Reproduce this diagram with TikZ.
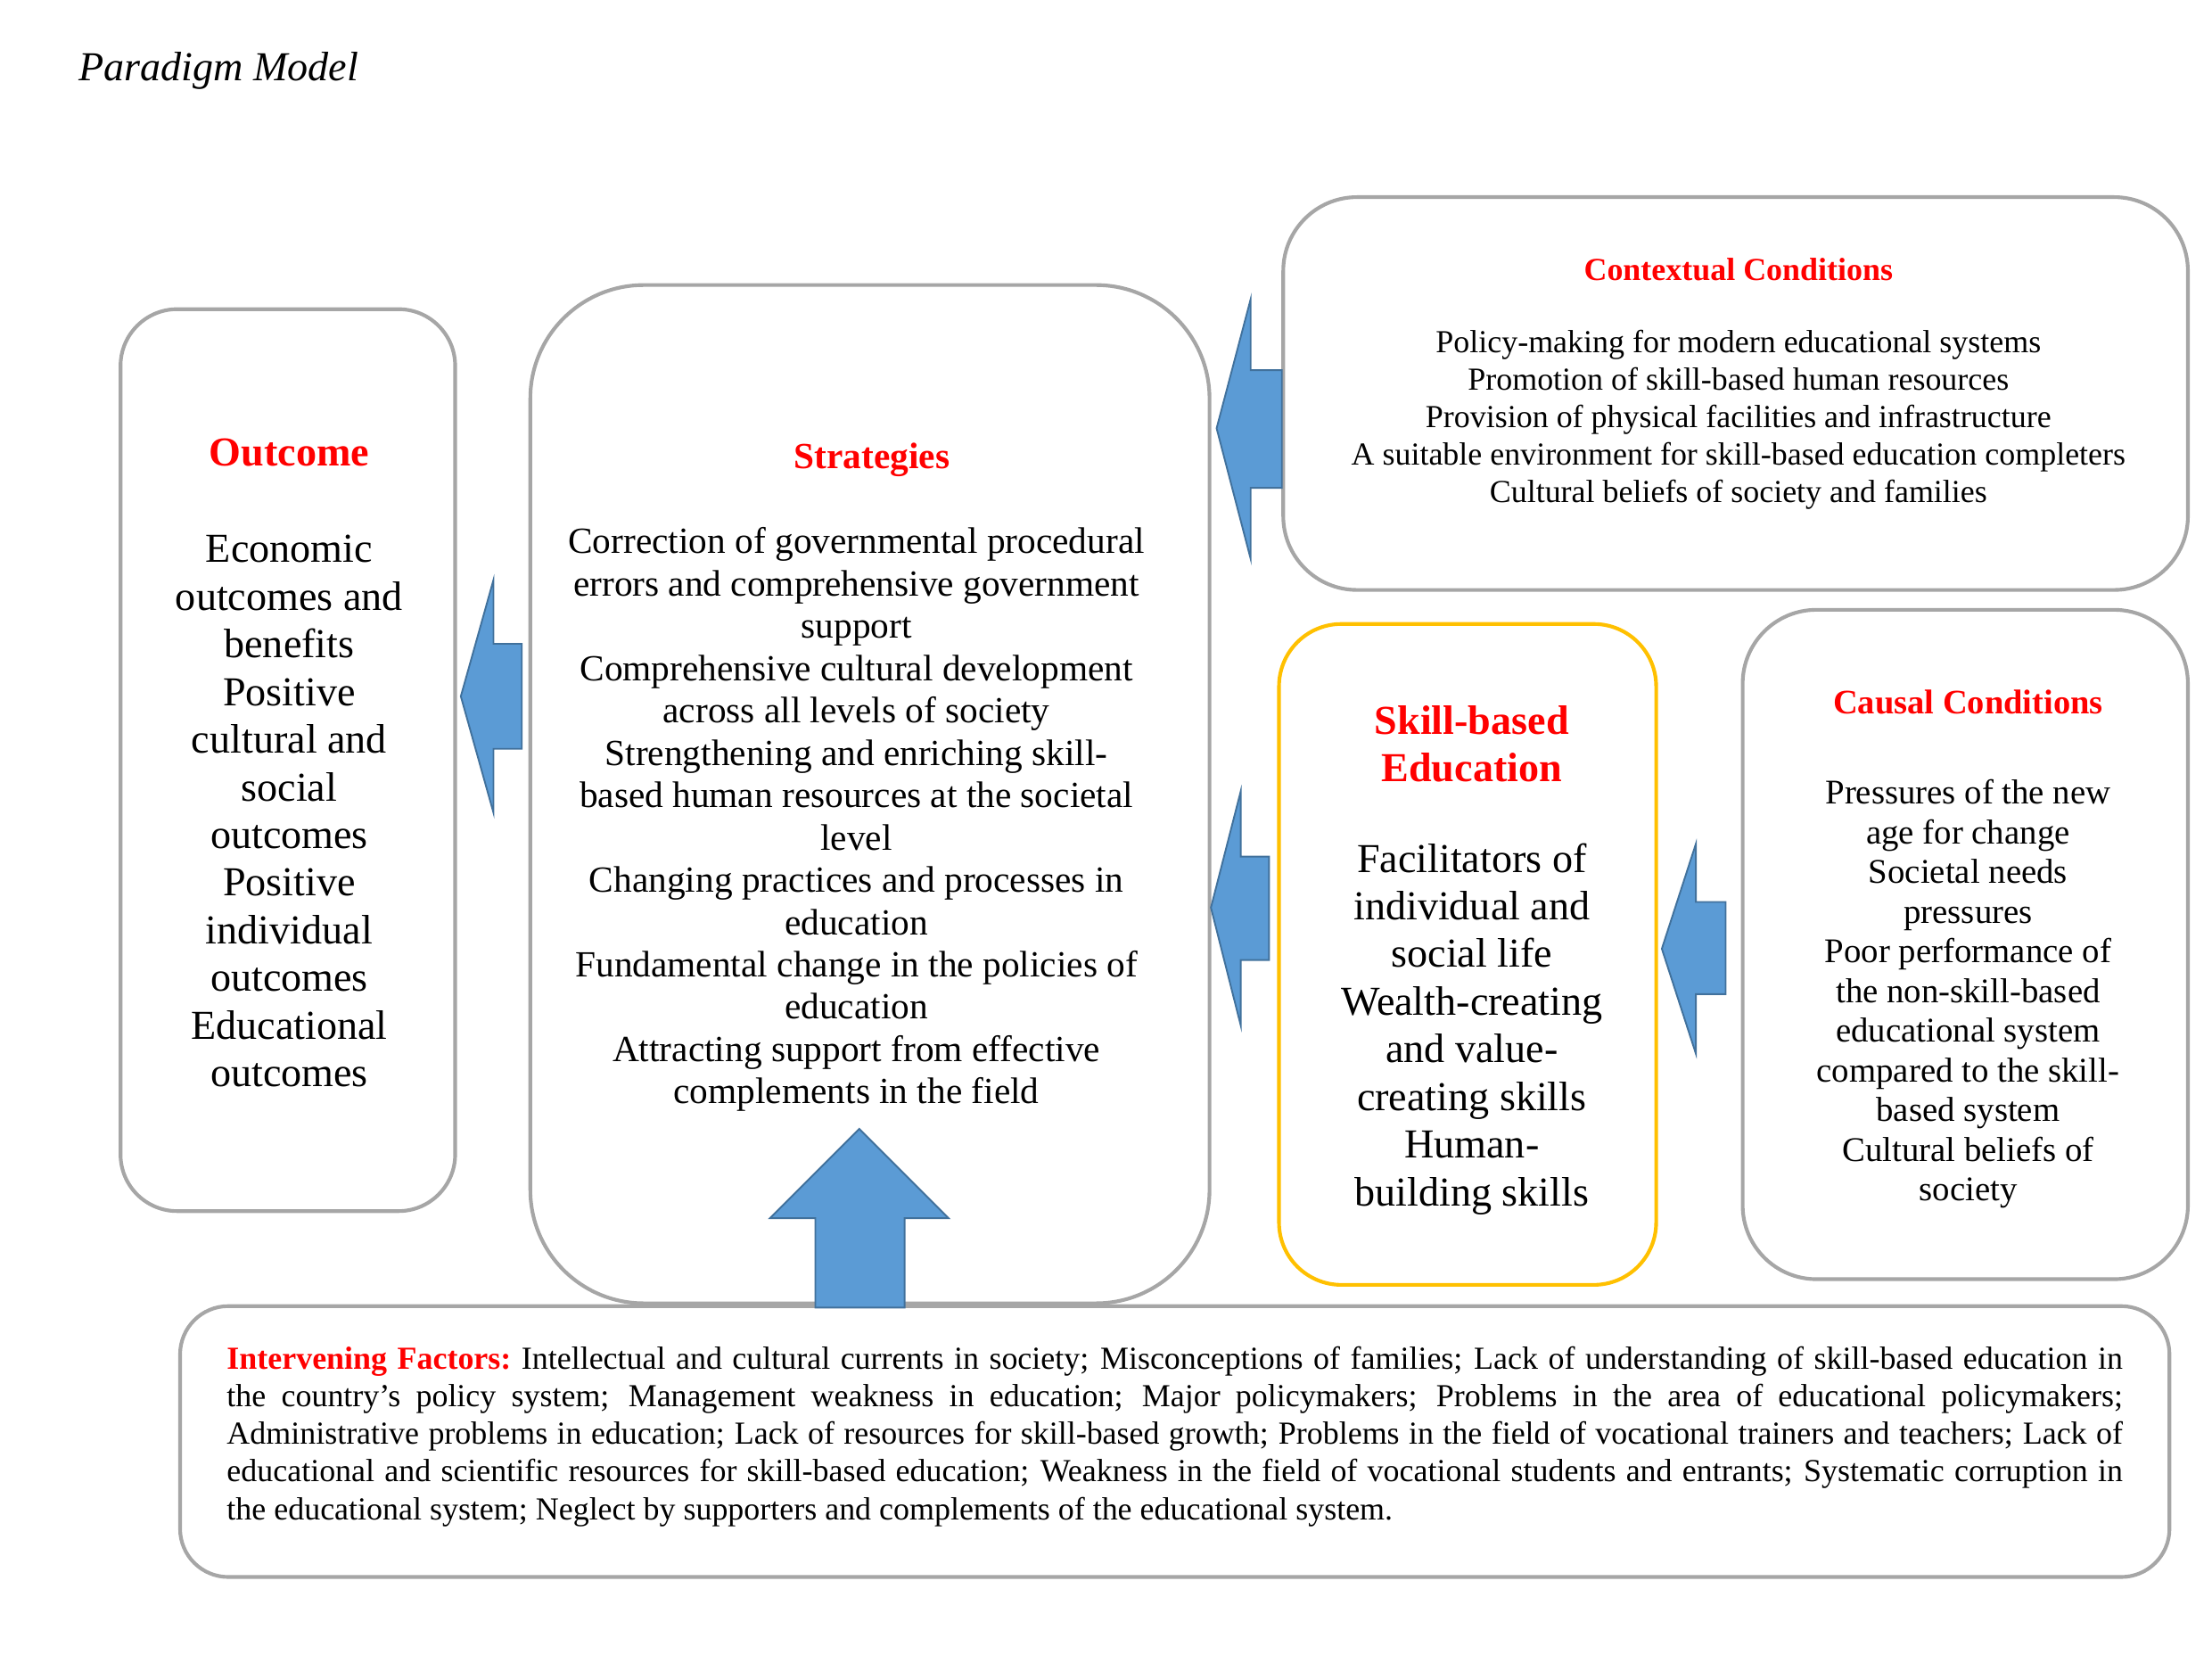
\documentclass[tikz,border=0pt]{standalone}
\usepackage{fontspec}
\setmainfont{Liberation Serif}
\hyphenpenalty=10000
\tolerance=9999

\definecolor{boxgrey}{HTML}{A6A6A6}
\definecolor{boxgold}{HTML}{FFC000}
\definecolor{arrowfill}{HTML}{5B9BD5}
\definecolor{arrowline}{HTML}{41719C}
\definecolor{headred}{HTML}{FF0000}

\tikzset{
  greybox/.style={draw=boxgrey, fill=white, line width=1.3pt, rounded corners=#1},
  goldbox/.style={draw=boxgold, fill=white, line width=1.3pt, rounded corners=#1},
  blockarrow/.style={fill=arrowfill, draw=arrowline, line width=0.6pt, line join=miter},
  headtext/.style 2 args={font=\bfseries\fontsize{#1}{#2}\selectfont, text=headred, align=center, inner sep=0pt},
  bodytext/.style 2 args={font=\fontsize{#1}{#2}\selectfont, align=center, inner sep=0pt}
}

\begin{document}
\begin{tikzpicture}[x=0.5pt, y=-0.5pt]
    \useasboundingbox (0,0) rectangle (1560,1167);

    \node[anchor=west, inner sep=0pt, font=\itshape\fontsize{14.5pt}{16pt}\selectfont] (title) at (55,50) {Paradigm Model};

    % boxes
    \node[greybox=20pt, minimum width=118pt, minimum height=318pt] (outcome) at (203,536) {};
    \node[greybox=40pt, minimum width=239.5pt, minimum height=359pt] (strat) at (613.5,560) {};
    \node[greybox=26pt, minimum width=319pt, minimum height=138.5pt] (context) at (1224,277.5) {};
    \node[goldbox=22pt, minimum width=133pt, minimum height=233pt] (skill) at (1035,673) {};
    \node[greybox=26pt, minimum width=157pt, minimum height=236pt] (causal) at (1386,666) {};
    \node[greybox=17pt, minimum width=701.5pt, minimum height=95.5pt] (interv) at (828.5,1016.5) {};

    % texts
    \node[headtext={14.5pt}{16.8pt}] (outcomeHead) at (204,319) {Outcome};
    \node[bodytext={14.5pt}{16.8pt}] (outcomeBody) at (204,572) {Economic\\outcomes and\\benefits\\Positive\\cultural and\\social\\outcomes\\Positive\\individual\\outcomes\\Educational\\outcomes};

    \node[headtext={13pt}{15pt}] (stratHead) at (615,324) {Strategies};
    \node[bodytext={13pt}{14.92pt}] (stratBody) at (604,578) {Correction of governmental procedural\\errors and comprehensive government\\support\\Comprehensive cultural development\\across all levels of society\\Strengthening and enriching skill-\\based human resources at the societal\\level\\Changing practices and processes in\\education\\Fundamental change in the policies of\\education\\Attracting support from effective\\complements in the field};

    \node[headtext={11.3pt}{13.25pt}] (contextHead) at (1226,190) {Contextual Conditions};
    \node[bodytext={11.3pt}{13.25pt}] (contextBody) at (1226,296) {Policy-making for modern educational systems\\Promotion of skill-based human resources\\Provision of physical facilities and infrastructure\\A suitable environment for skill-based education completers\\Cultural beliefs of society and families};

    \node[headtext={14.5pt}{16.5pt}] (skillHead) at (1038,524.5) {Skill-based\\Education};
    \node[bodytext={14.5pt}{16.8pt}] (skillBody) at (1038,725.5) {Facilitators of\\individual and\\social life\\Wealth-creating\\and value-\\creating skills\\Human-\\building skills};

    \node[headtext={12.1pt}{14pt}] (causalHead) at (1388,495) {Causal Conditions};
    \node[bodytext={12.2pt}{14pt}] (causalBody) at (1388,701) {Pressures of the new\\age for change\\Societal needs\\pressures\\Poor performance of\\the non-skill-based\\educational system\\compared to the skill-\\based system\\Cultural beliefs of\\society};

    \node[font=\fontsize{11.3pt}{13.25pt}\selectfont, text width=668.5pt, align=justify, inner sep=0pt] (intervText) at (828.5,1013) {\textcolor{headred}{\bfseries Intervening Factors:}~Intellectual and cultural currents in society; Misconceptions of families; Lack of understanding of skill-based education in\linebreak the country's policy system; Management weakness in education; Major policymakers; Problems in the area of educational policymakers;\linebreak Administrative problems in education; Lack of resources for skill-based growth; Problems in the field of vocational trainers and teachers; Lack of\linebreak educational and scientific resources for skill-based education; Weakness in the field of vocational students and entrants; Systematic corruption in\linebreak the educational system; Neglect by supporters and complements of the educational system.};

    % block arrows
    \draw[blockarrow] (368,454) -- (348,454) -- (348,409) -- (325,491) -- (348,573) -- (348,528) -- (368,528) -- cycle;
    \draw[blockarrow] (904,261) -- (882,261) -- (882,211) -- (858,302) -- (882,394) -- (882,344) -- (904,344) -- cycle;
    \draw[blockarrow] (895,604) -- (875,604) -- (875,558) -- (854,640) -- (875,723) -- (875,677) -- (895,677) -- cycle;
    \draw[blockarrow] (1217,636) -- (1196,636) -- (1196,595) -- (1172,669) -- (1196,743) -- (1196,701) -- (1217,701) -- cycle;
    \draw[blockarrow] (575,922) -- (575,859) -- (543,859) -- (606,796) -- (669,859) -- (638,859) -- (638,922) -- cycle;
\end{tikzpicture}
\end{document}
